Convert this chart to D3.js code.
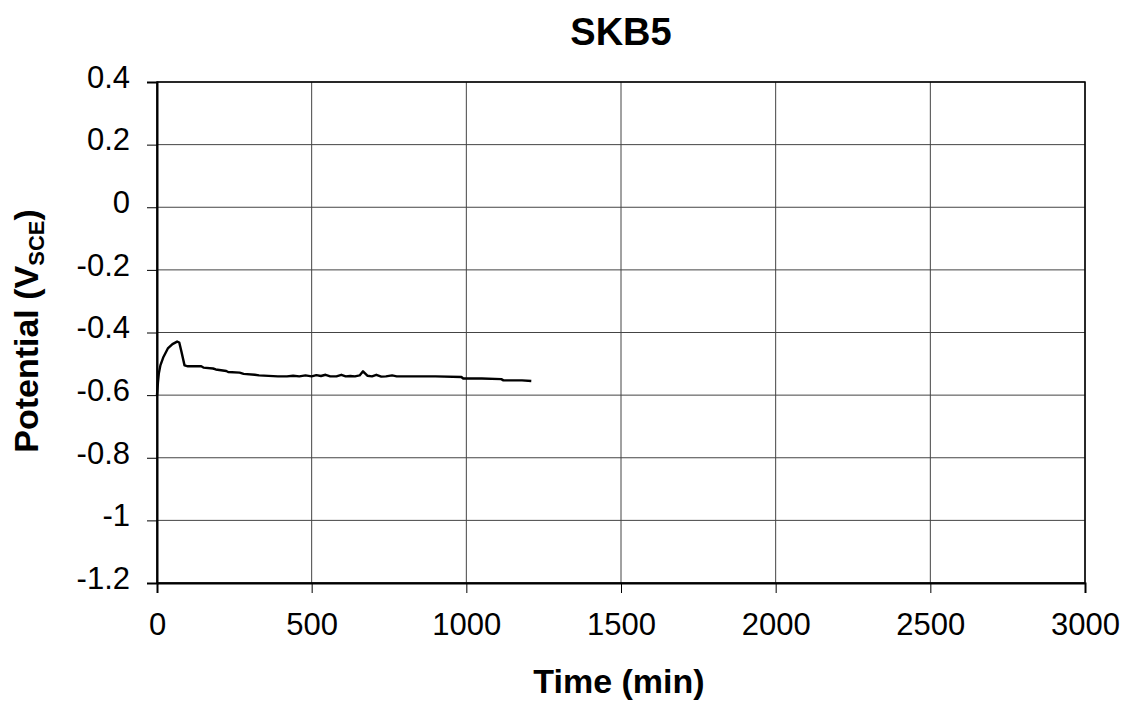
<!DOCTYPE html>
<html><head><meta charset="utf-8">
<script src="https://cdn.jsdelivr.net/npm/d3@7"></script>
<style>body{margin:0;background:#fff;} text{font-family:"Liberation Sans",Arial,sans-serif;}</style>
</head><body>
<svg id="c" width="1127" height="704"></svg>
<script>
const title = "SKB5";
const xTicks = [0,500,1000,1500,2000,2500,3000];
const yTicks = [0.4,0.2,0,-0.2,-0.4,-0.6,-0.8,-1,-1.2];
const timeMin = [0,3,6,11,20,35,50,65,72,79,89,100,143,150,181,190,224,230,267,280,316,330,391,420,440,460,480,500,515,530,545,560,580,596,610,625,640,655,666,680,695,709,725,740,760,775,795,850,900,984,990,1050,1113,1120,1180,1210];
const potential = [-0.6,-0.56,-0.53,-0.505,-0.48,-0.451,-0.437,-0.429,-0.432,-0.461,-0.505,-0.508,-0.508,-0.512,-0.515,-0.518,-0.523,-0.526,-0.528,-0.532,-0.535,-0.537,-0.540,-0.540,-0.538,-0.540,-0.537,-0.540,-0.536,-0.539,-0.535,-0.540,-0.540,-0.535,-0.540,-0.539,-0.540,-0.537,-0.524,-0.538,-0.540,-0.535,-0.541,-0.540,-0.537,-0.540,-0.540,-0.540,-0.540,-0.542,-0.547,-0.547,-0.549,-0.553,-0.553,-0.555];

const svg = d3.select("#c");
const L=157, R=1085, T=82, B=583;
const x = d3.scaleLinear().domain([0,3000]).range([L,R]);
const y = d3.scaleLinear().domain([-1.2,0.4]).range([B,T]);

// gridlines
svg.append("g").selectAll("line").data(xTicks).join("line")
  .attr("x1",d=>x(d)).attr("x2",d=>x(d)).attr("y1",T).attr("y2",B)
  .attr("stroke","#444").attr("stroke-width",1);
svg.append("g").selectAll("line").data(yTicks).join("line")
  .attr("x1",L).attr("x2",R).attr("y1",d=>y(d)).attr("y2",d=>y(d))
  .attr("stroke","#444").attr("stroke-width",1);
// frame
svg.append("rect").attr("x",L).attr("y",T).attr("width",R-L).attr("height",B-T)
  .attr("fill","none").attr("stroke","#000").attr("stroke-width",1.5);

// axes
const xa = svg.append("g").attr("transform",`translate(0,${B})`)
  .call(d3.axisBottom(x).tickValues(xTicks).tickSize(10).tickPadding(20).tickFormat(d3.format("d")));
const ya = svg.append("g").attr("transform",`translate(${L},0)`)
  .call(d3.axisLeft(y).tickValues(yTicks).tickSize(10).tickPadding(17).tickFormat(d=>String(Math.round(d*10)/10)));
[xa,ya].forEach(a=>{
  a.select(".domain").attr("stroke","#000").attr("stroke-width",2);
  a.selectAll(".tick line").attr("stroke","#000");
  a.selectAll(".tick text").attr("font-size",31).attr("fill","#000")
   .attr("font-family","'Liberation Sans',Arial,sans-serif");
});
ya.selectAll(".tick text").attr("dy","0.17em");

// line
svg.append("path").datum(timeMin.map((t,i)=>[t,potential[i]]))
  .attr("d",d3.line().x(d=>x(d[0])).y(d=>y(d[1])))
  .attr("fill","none").attr("stroke","#000").attr("stroke-width",2.4).attr("stroke-linejoin","round");

// titles
svg.append("text").attr("x",621).attr("y",45).attr("text-anchor","middle")
  .attr("font-size",38).attr("font-weight","bold").text(title);
svg.append("text").attr("x",619).attr("y",693).attr("text-anchor","middle")
  .attr("font-size",34).attr("font-weight","bold").text("Time (min)");
const yl = svg.append("text").attr("transform","translate(38,331) rotate(-90)")
  .attr("text-anchor","middle").attr("font-size",34).attr("font-weight","bold");
yl.append("tspan").text("Potential (V");
yl.append("tspan").attr("font-size",22).attr("dy",6).text("SCE");
yl.append("tspan").attr("dy",-6).text(")");
</script>
</body></html>
